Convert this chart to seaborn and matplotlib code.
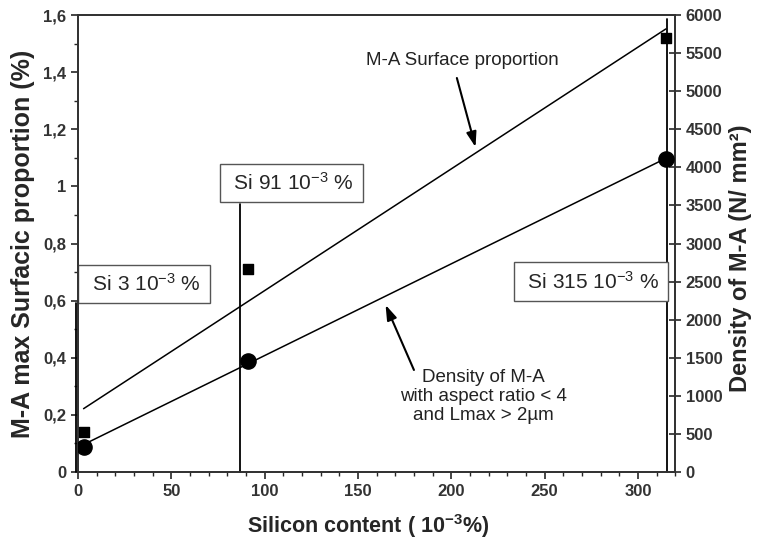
import numpy as np
import pandas as pd
import matplotlib
matplotlib.use('Agg')
import matplotlib.pyplot as plt
from matplotlib.ticker import FuncFormatter, MultipleLocator
import seaborn as sns

# data
silicon = [3, 91, 315]
surface_prop = [0.14, 0.71, 1.52]      # % (left axis, squares)
density_ma = [332, 1457, 4109]          # N/mm2 (right axis, circles)

df = pd.DataFrame({'Si': silicon, 'Surface': surface_prop, 'Density': density_ma})

sns.set_style('ticks')
plt.rcParams['font.family'] = ['Liberation Sans', 'DejaVu Sans']
plt.rcParams['mathtext.fontset'] = 'custom'
plt.rcParams['mathtext.rm'] = 'Liberation Sans'
plt.rcParams['mathtext.it'] = 'Liberation Sans'
plt.rcParams['mathtext.bf'] = 'Liberation Sans:bold'
plt.rcParams['mathtext.default'] = 'regular'

fig = plt.figure(figsize=(7.57, 5.43), dpi=100)
ax = fig.add_axes([0.103, 0.131, 0.789, 0.841])
ax2 = ax.twinx()

# surface proportion: squares + regression line
sns.regplot(data=df, x='Si', y='Surface', ax=ax, ci=None, truncate=True, marker='s',
            scatter_kws=dict(s=45, color='black', edgecolor='black', alpha=1, zorder=5),
            line_kws=dict(color='black', lw=1.1))
# density of M-A: circles + regression line
sns.regplot(data=df, x='Si', y='Density', ax=ax2, ci=None, truncate=True, marker='o',
            scatter_kws=dict(s=120, color='black', edgecolor='black', alpha=1, zorder=5),
            line_kws=dict(color='black', lw=1.1))

ax.set_xlim(0, 320)
ax.set_ylim(0, 1.6)
ax2.set_ylim(0, 6000)

ax.xaxis.set_major_locator(MultipleLocator(50))
ax.xaxis.set_minor_locator(MultipleLocator(10))
ax.yaxis.set_major_locator(MultipleLocator(0.2))
ax.yaxis.set_minor_locator(MultipleLocator(0.1))
ax.yaxis.set_major_formatter(FuncFormatter(lambda v, p: f'{v:g}'.replace('.', ',')))
ax2.yaxis.set_major_locator(MultipleLocator(500))

for a in (ax, ax2):
    for s in a.spines.values():
        s.set_linewidth(1.3)
        s.set_color('#333333')
ax.tick_params(axis='both', which='major', length=5, width=1.2, labelsize=12, direction='out')
ax.tick_params(axis='both', which='minor', length=3, width=1, direction='out')
ax2.tick_params(axis='y', which='major', length=8, width=1.2, labelsize=12, direction='inout')
for lbl in ax.get_xticklabels() + ax.get_yticklabels() + ax2.get_yticklabels():
    lbl.set_fontweight('bold')
    lbl.set_color('#333333')

ax.set_xlabel('Silicon content ( 10$^{-3}$%)', fontsize=15.5, fontweight='bold')
ax.xaxis.set_label_coords(0.486, -0.088)
ax.set_ylabel('M-A max Surfacic proportion (%)', fontsize=18, fontweight='bold', labelpad=6)
ax2.set_ylabel('Density of M-A (N/ mm²)', fontsize=17, fontweight='bold')
ax2.yaxis.set_label_coords(1.09, 0.468)

# vertical marker lines for each sample
for xv, ytop in [(-1, 0.59), (86.6, 0.94), (315.6, 1.585)]:
    ax.plot([xv, xv], [0, ytop], color='black', lw=1.3, clip_on=False, zorder=4)

box = dict(boxstyle='square,pad=0.4', fc='white', ec='#555555', lw=1)
ax.text(35.4, 0.658, ' Si 3 10$^{-3}$ % ', fontsize=15, ha='center', va='center', bbox=box, zorder=6)
ax.text(114.3, 1.012, ' Si 91 10$^{-3}$ % ', fontsize=15, ha='center', va='center', bbox=box, zorder=6)
ax.text(275, 0.667, ' Si 315 10$^{-3}$ % ', fontsize=15, ha='center', va='center', bbox=box, zorder=6)

arrow = dict(arrowstyle='-|>,head_length=0.9,head_width=0.3', color='black', lw=1.5,
             shrinkA=0, shrinkB=0)
ax.text(206, 1.443, 'M-A Surface proportion', fontsize=13.5, ha='center', va='center', color='#222222')
ax.annotate('', xy=(213, 1.138), xytext=(203, 1.38), arrowprops=arrow)
ax.text(217.4, 0.263, 'Density of M-A\nwith aspect ratio < 4\nand Lmax > 2µm', fontsize=13.5,
        ha='center', va='center', linespacing=1.15, color='#222222')
ax.annotate('', xy=(164.8, 0.585), xytext=(180, 0.357), arrowprops=arrow)

fig.savefig('out.png', dpi=100)
